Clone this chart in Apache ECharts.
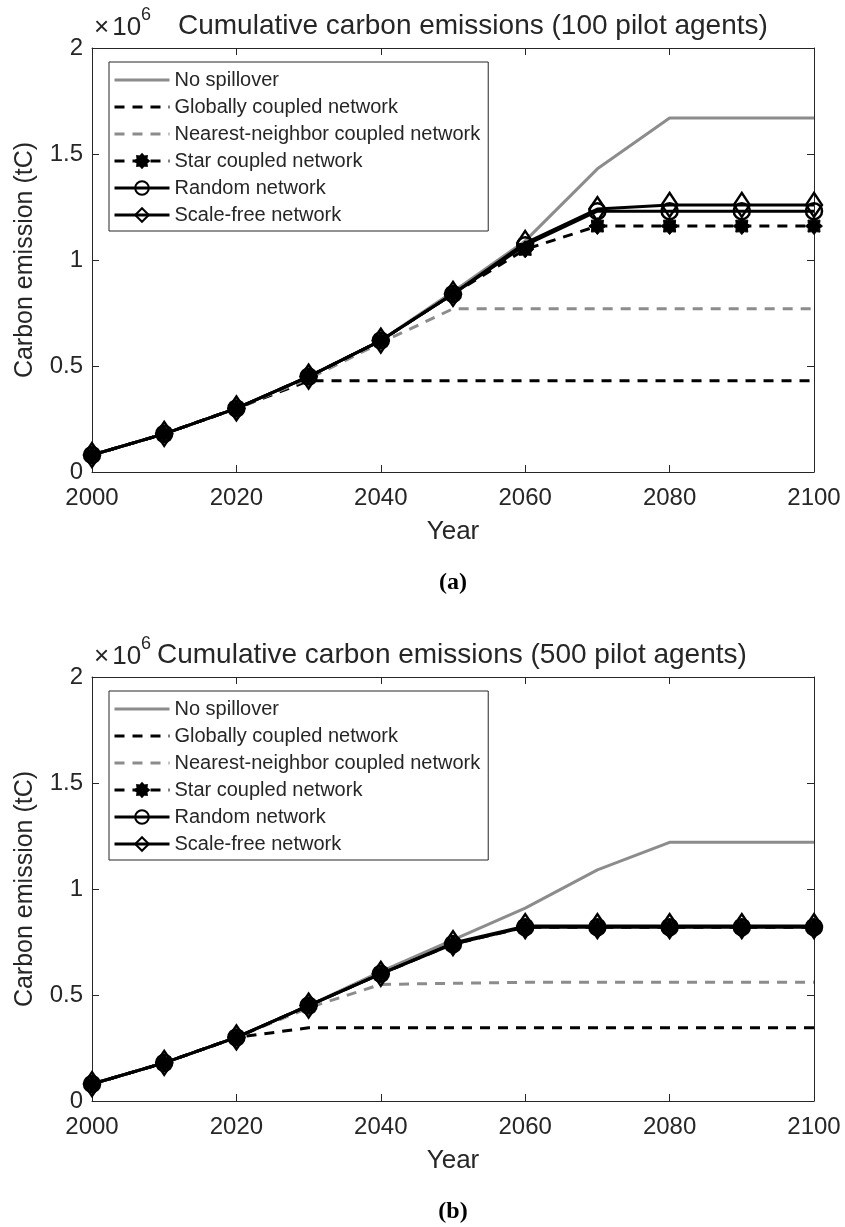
<!DOCTYPE html>
<html>
<head>
<meta charset="utf-8">
<script src="https://cdn.jsdelivr.net/npm/echarts@6/dist/echarts.min.js"></script>
<style>
  html, body { margin: 0; padding: 0; background: #fff; }
  #chart { width: 845px; height: 1227px; }
</style>
</head>
<body>
<div id="chart"></div>
<script>
// Simulation years (one point every decade)
const years = [2000, 2010, 2020, 2030, 2040, 2050, 2060, 2070, 2080, 2090, 2100];

// Cumulative carbon emissions, tC — 100 pilot agents
const noSpillover100  = [80000, 180000, 300000, 450000, 620000, 850000, 1090000, 1430000, 1670000, 1670000, 1670000];
const globalNet100    = [80000, 180000, 300000, 430000, 430000, 430000, 430000, 430000, 430000, 430000, 430000];
const nearestNet100   = [80000, 180000, 300000, 440000, 610000, 770000, 770000, 770000, 770000, 770000, 770000];
const starNet100      = [80000, 180000, 300000, 450000, 620000, 840000, 1050000, 1160000, 1160000, 1160000, 1160000];
const randomNet100    = [80000, 180000, 300000, 450000, 620000, 840000, 1070000, 1230000, 1230000, 1230000, 1230000];
const scaleFreeNet100 = [80000, 180000, 300000, 450000, 620000, 840000, 1080000, 1240000, 1260000, 1260000, 1260000];

// Cumulative carbon emissions, tC — 500 pilot agents
const noSpillover500  = [80000, 180000, 300000, 450000, 610000, 760000, 910000, 1090000, 1220000, 1220000, 1220000];
const globalNet500    = [80000, 180000, 300000, 345000, 345000, 345000, 345000, 345000, 345000, 345000, 345000];
const nearestNet500   = [80000, 180000, 300000, 440000, 550000, 555000, 560000, 560000, 560000, 560000, 560000];
const starNet500      = [80000, 180000, 300000, 450000, 600000, 740000, 820000, 820000, 820000, 820000, 820000];
const randomNet500    = [80000, 180000, 300000, 450000, 600000, 740000, 820000, 820000, 820000, 820000, 820000];
const scaleFreeNet500 = [80000, 180000, 300000, 450000, 600000, 745000, 825000, 825000, 825000, 825000, 825000];

const seriesNames = ['No spillover', 'Globally coupled network', 'Nearest-neighbor coupled network',
                     'Star coupled network', 'Random network', 'Scale-free network'];

// Axis ticks
const xTickYears = [2000, 2020, 2040, 2060, 2080, 2100];
const yTickLabels = ['0', '0.5', '1', '1.5', '2'];
const yStep = 500000;

const panelTitles = ['Cumulative carbon emissions (100 pilot agents)', 'Cumulative carbon emissions (500 pilot agents)'];
const panelTags = ['(a)', '(b)'];

const FONT = '"Liberation Sans", Arial, Helvetica, sans-serif';
const INK = '#262626';
const GRAY = '#8c8c8c';
const DASH = [10, 8];
const CLEAR = 'rgba(255,255,255,0)';

// Dense spiky burst used as the "*" marker glyph
function burstSymbol(spikes, inner) {
  const pts = [];
  for (let i = 0; i < spikes * 2; i++) {
    const a = i * Math.PI / spikes - Math.PI / 2;
    const r = i % 2 ? inner : 1;
    pts.push((10 + 10 * r * Math.cos(a)).toFixed(2) + ',' + (10 + 10 * r * Math.sin(a)).toFixed(2));
  }
  return 'path://M' + pts.join('L') + 'Z';
}
const ASTERISK = burstSymbol(8, 0.72);

// Plot-area layout for the two stacked panels
const panels = [
  { top: 48, data: [noSpillover100, globalNet100, nearestNet100, starNet100, randomNet100, scaleFreeNet100] },
  { top: 677, data: [noSpillover500, globalNet500, nearestNet500, starNet500, randomNet500, scaleFreeNet500] }
];
const PLOT_LEFT = 92, PLOT_W = 722, PLOT_H = 424;

const pairs = (vals) => years.map((y, i) => [y, vals[i]]);

function seriesStyle(k) {
  const hollow = { color: CLEAR, borderColor: '#000', borderWidth: 2.5 };
  const noMark = { color: CLEAR, borderColor: CLEAR, borderWidth: 0 };
  switch (k) {
    case 0: return { symbol: 'none', itemStyle: noMark, lineStyle: { color: GRAY, width: 3, type: 'solid' } };
    case 1: return { symbol: 'none', itemStyle: noMark, lineStyle: { color: '#000', width: 3, type: DASH } };
    case 2: return { symbol: 'none', itemStyle: noMark, lineStyle: { color: GRAY, width: 3, type: DASH } };
    case 3: return { symbol: ASTERISK, symbolSize: 17, lineStyle: { color: '#000', width: 3, type: DASH },
                     itemStyle: { color: '#000', borderColor: '#000', borderWidth: 1 } };
    case 4: return { symbol: 'circle', symbolSize: 16, lineStyle: { color: '#000', width: 3, type: 'solid' },
                     itemStyle: hollow };
    case 5: return { symbol: 'diamond', symbolSize: [16, 24], lineStyle: { color: '#000', width: 3, type: 'solid' },
                     itemStyle: hollow };
  }
}

const grid = [], xAxis = [], yAxis = [], series = [], legend = [], title = [];

panels.forEach((p, g) => {
  grid.push({ left: PLOT_LEFT, top: p.top, width: PLOT_W, height: PLOT_H, outerBoundsMode: 'none', containLabel: false });

  const tick = { show: true, inside: true, length: 7, lineStyle: { color: INK, width: 1 } };
  const line = { show: true, onZero: false, lineStyle: { color: INK, width: 1 } };

  // bottom x axis with labels, top x axis closing the box
  xAxis.push({
    type: 'value', gridIndex: g, position: 'bottom', min: 2000, max: 2100, interval: 20,
    axisLine: line, axisTick: tick, splitLine: { show: false },
    axisLabel: { color: INK, fontFamily: FONT, fontSize: 24, margin: 14,
                 formatter: (v) => String(xTickYears[xTickYears.indexOf(v)]) },
    name: 'Year', nameLocation: 'middle', nameGap: 47,
    nameTextStyle: { color: INK, fontFamily: FONT, fontSize: 26 }
  });
  xAxis.push({
    type: 'value', gridIndex: g, position: 'top', min: 2000, max: 2100, interval: 20,
    axisLine: line, axisTick: tick, axisLabel: { show: false }, splitLine: { show: false }
  });

  // left y axis with labels, right y axis closing the box
  yAxis.push({
    type: 'value', gridIndex: g, position: 'left', min: 0, max: 2000000, interval: yStep,
    axisLine: line, axisTick: tick, splitLine: { show: false },
    axisLabel: { color: INK, fontFamily: FONT, fontSize: 24, margin: 9,
                 formatter: (v) => yTickLabels[Math.round(v / yStep)] },
    name: 'Carbon emission (tC)', nameLocation: 'middle', nameGap: 54,
    nameTextStyle: { color: INK, fontFamily: FONT, fontSize: 25 }
  });
  yAxis.push({
    type: 'value', gridIndex: g, position: 'right', min: 0, max: 2000000, interval: yStep,
    axisLine: line, axisTick: tick, axisLabel: { show: false }, splitLine: { show: false }
  });

  p.data.forEach((vals, k) => {
    series.push(Object.assign({
      name: seriesNames[k], type: 'line', xAxisIndex: 2 * g, yAxisIndex: 2 * g,
      data: pairs(vals), showSymbol: true, clip: false, silent: true,
      emphasis: { disabled: true }
    }, seriesStyle(k)));
  });

  legend.push({
    orient: 'vertical', left: 109, top: p.top + 14, selectedMode: false,
    data: seriesNames, itemWidth: 55, itemHeight: 17, itemGap: 7,
    padding: [8, 8, 6, 4], backgroundColor: '#fff', borderColor: INK, borderWidth: 1, borderRadius: 0,
    lineStyle: { width: 3 },
    textStyle: { color: INK, fontFamily: FONT, fontSize: 20, lineHeight: 20 }
  });

  title.push({
    text: panelTitles[g], left: g === 0 ? 178 : 157, top: p.top - 36, padding: 0,
    textStyle: { color: INK, fontFamily: FONT, fontSize: 28, fontWeight: 'normal' }
  });
  title.push({
    text: '{x|×}{m|10}{e|6}', left: 94, top: p.top - 42, padding: 0,
    textStyle: {
      fontWeight: 'normal',
      rich: {
        x: { color: INK, fontFamily: FONT, fontSize: 26, fontWeight: 'normal', padding: [9, 3, 0, 0], verticalAlign: 'bottom' },
        m: { color: INK, fontFamily: FONT, fontSize: 26, fontWeight: 'normal', padding: [9, 0, 0, 0], verticalAlign: 'bottom' },
        e: { color: INK, fontFamily: FONT, fontSize: 18, fontWeight: 'normal', verticalAlign: 'top' }
      }
    }
  });
  title.push({
    text: panelTags[g], left: PLOT_LEFT + PLOT_W / 2, textAlign: 'center', top: p.top + PLOT_H + 99, padding: 0,
    textStyle: { color: '#000', fontFamily: '"Liberation Serif", "Times New Roman", serif', fontSize: 24, fontWeight: 'bold' }
  });
});

const chart = echarts.init(document.getElementById('chart'), null, { renderer: 'canvas' });
chart.setOption({
  animation: false,
  backgroundColor: '#fff',
  title, grid, xAxis, yAxis, legend, series
});
</script>
</body>
</html>
